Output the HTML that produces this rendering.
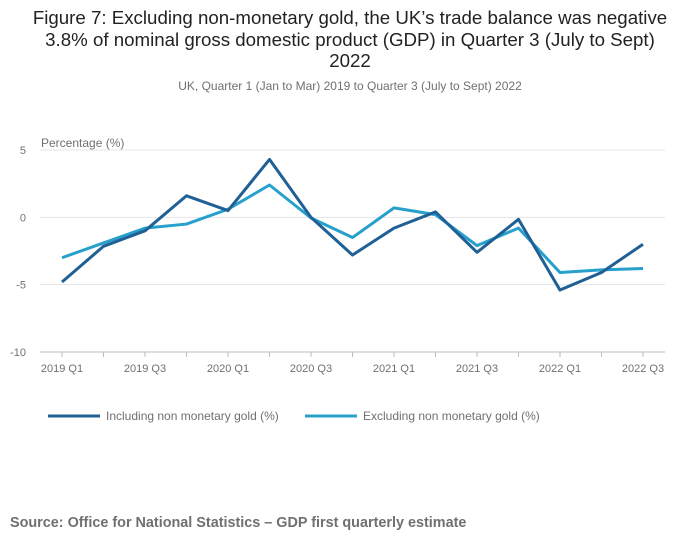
<!DOCTYPE html>
<html><head><meta charset="utf-8">
<style>
body{margin:0;width:700px;height:549px;background:#fff;font-family:"Liberation Sans",sans-serif;overflow:hidden}
svg text{font-family:"Liberation Sans",sans-serif}
</style></head>
<body>
<svg id="chart" width="700" height="549">
<text x="350" y="24" text-anchor="middle" font-size="18.7" fill="#222">Figure 7: Excluding non-monetary gold, the UK’s trade balance was negative</text>
<text x="350" y="46" text-anchor="middle" font-size="18.7" fill="#222">3.8% of nominal gross domestic product (GDP) in Quarter 3 (July to Sept)</text>
<text x="350" y="67" text-anchor="middle" font-size="18.7" fill="#222">2022</text>
<text x="350" y="90" text-anchor="middle" font-size="12" fill="#707070">UK, Quarter 1 (Jan to Mar) 2019 to Quarter 3 (July to Sept) 2022</text>
<text x="41" y="147" font-size="12" fill="#707070">Percentage (%)</text>
<g id="grid"></g><g id="xaxis"></g><g id="lines"></g>
<g>
<line x1="48" y1="416" x2="100" y2="416" stroke="#206095" stroke-width="3"/>
<text x="106" y="420" font-size="12" fill="#707070">Including non monetary gold (%)</text>
<line x1="305" y1="416" x2="357" y2="416" stroke="#27a0cc" stroke-width="3"/>
<text x="363" y="420" font-size="12" fill="#707070">Excluding non monetary gold (%)</text>
</g>
<text x="10" y="527" font-size="14.4" font-weight="bold" fill="#707070">Source: Office for National Statistics – GDP first quarterly estimate</text>
</svg>
<script>
const categories=["2019 Q1","2019 Q2","2019 Q3","2019 Q4","2020 Q1","2020 Q2","2020 Q3","2020 Q4","2021 Q1","2021 Q2","2021 Q3","2021 Q4","2022 Q1","2022 Q2","2022 Q3"];
const including=[-4.8,-2.15,-1.0,1.6,0.5,4.3,0,-2.8,-0.8,0.4,-2.6,-0.15,-5.4,-4.1,-2.0];
const excluding=[-3.0,-1.9,-0.8,-0.5,0.6,2.4,-0.05,-1.5,0.7,0.2,-2.1,-0.8,-4.1,-3.9,-3.8];
const yTicks=[5,0,-5,-10];
const xTickLabels=["2019 Q1","2019 Q3","2020 Q1","2020 Q3","2021 Q1","2021 Q3","2022 Q1","2022 Q3"];
const NS="http://www.w3.org/2000/svg";
const x0=62,x1=643,yTop=150,yBot=352;
const xs=i=>x0+(x1-x0)*i/(categories.length-1);
const ys=v=>yTop+(5-v)/15*(yBot-yTop);
function mk(t,a,p){const e=document.createElementNS(NS,t);for(const k in a)e.setAttribute(k,a[k]);p.appendChild(e);return e;}
const grid=document.getElementById('grid');
yTicks.forEach(v=>{
 const l=mk('line',{x1:40,x2:665,y1:ys(v),y2:ys(v),stroke:v===-10?'#bbb':'#e4e4e4'},grid);
 
 
 const t=mk('text',{x:26,y:ys(v)+4,'text-anchor':'end','font-size':11,fill:'#707070'},grid);
 t.textContent=v;
 
 
});
const xa=document.getElementById('xaxis');
categories.forEach((c,i)=>{
 mk('line',{x1:xs(i),x2:xs(i),y1:yBot,y2:yBot+5,stroke:'#bbb'},xa);
 if(xTickLabels.includes(c)){
  const t=mk('text',{x:xs(i),y:yBot+20,'text-anchor':'middle','font-size':11,fill:'#707070'},xa);
  t.textContent=c;
  
  
 }
});
const lg=document.getElementById('lines');
[[excluding,'#27a0cc','line-excluding'],[including,'#206095','line-including']].forEach(([d,c,n])=>{
 const p=mk('polyline',{points:d.map((v,i)=>xs(i)+','+ys(v)).join(' '),fill:'none',stroke:c,'stroke-width':3,'stroke-linejoin':'round'},lg);
 
 
});
</script>
</body></html>
